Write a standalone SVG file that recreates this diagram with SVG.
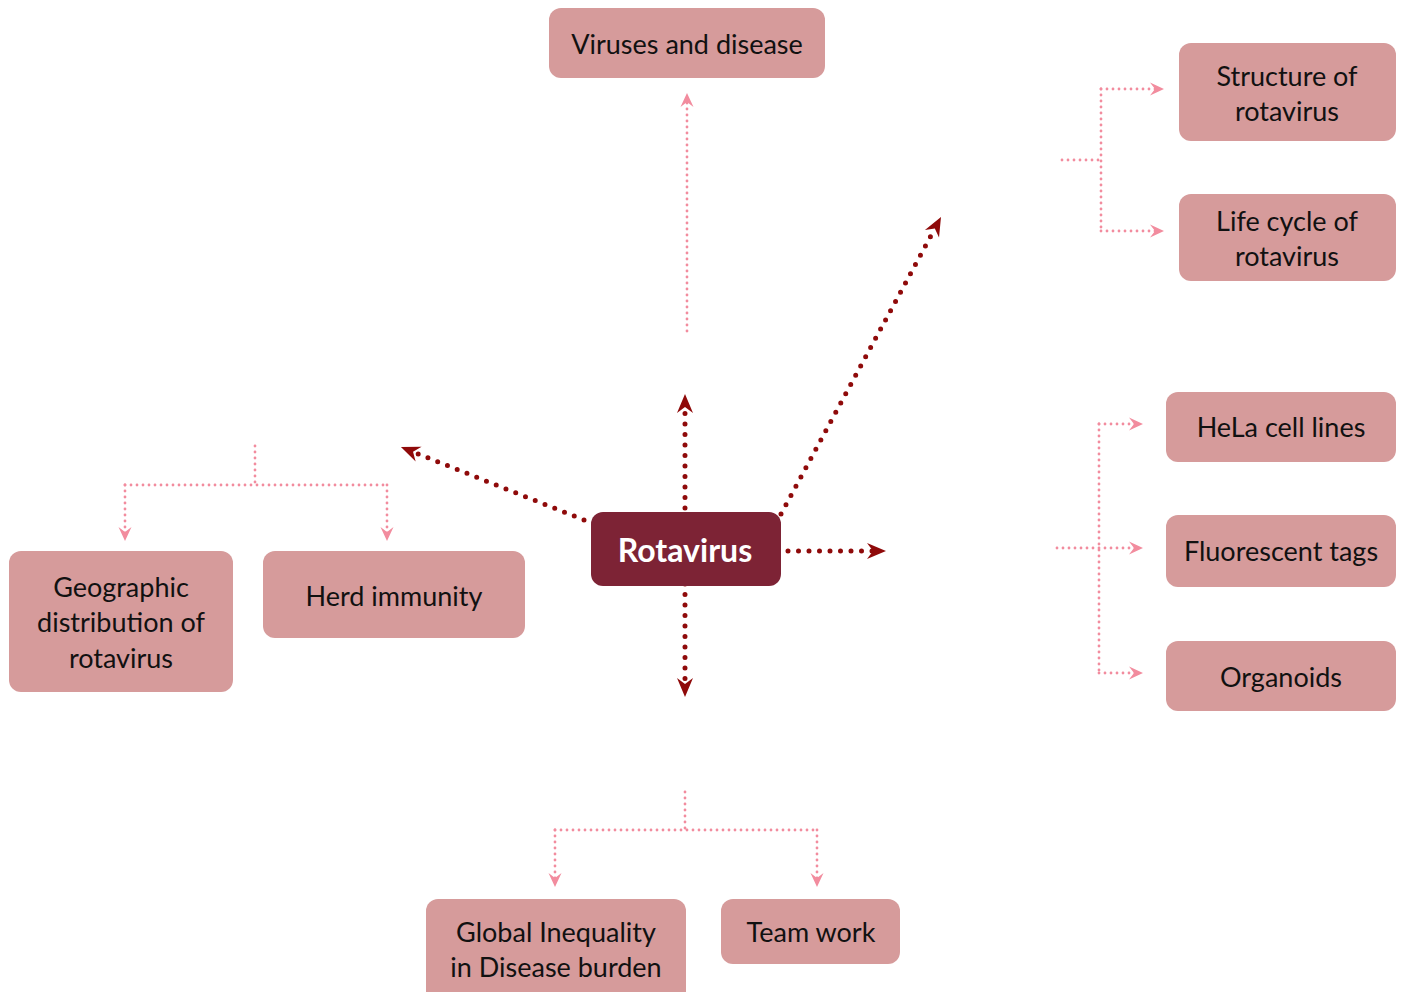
<svg xmlns="http://www.w3.org/2000/svg" width="1404" height="992" viewBox="0 0 1404 992">
<style>
.node rect{fill:#D69B9B;}
.lbl{font-family:Lato,"Open Sans",sans-serif;font-size:27px;fill:#111;text-anchor:middle;}
.dark{fill:none;stroke:#8F0A0A;stroke-width:5;stroke-dasharray:0 10.5;stroke-linecap:round;}
.pink{fill:none;stroke:#F28C9E;stroke-width:2.8;stroke-dasharray:0 6;stroke-linecap:round;}
.darkE{marker-end:url(#ad);}
.pinkE{marker-end:url(#ap);}
</style>
<defs>
<marker id="ad" markerUnits="userSpaceOnUse" markerWidth="22" markerHeight="20" viewBox="-20 -9 22 18" refX="-12" refY="0" orient="auto">
<path d="M0,0 L-19,-8 L-13,0 L-19,8 Z" fill="#8F0A0A"/>
</marker>
<marker id="ap" markerUnits="userSpaceOnUse" markerWidth="16" markerHeight="16" viewBox="-14 -7 16 14" refX="-7" refY="0" orient="auto">
<path d="M0,0 L-14,-6.5 L-9,0 L-14,6.5 Z" fill="#F28C9E"/>
</marker>
</defs>
<g id="connectors">
<path class="dark darkE" d="M685,508 L685,406"/>
<path class="dark darkE" d="M685,584 L685,685"/>
<path class="dark darkE" d="M788,551 L874,551"/>
<path class="dark darkE" d="M584,520 L412.1,451.5"/>
<path class="dark darkE" d="M781,514 L935.3,227.6"/>
<path class="pink pinkE" d="M687,331 L687,100"/>
<path class="pink" d="M1062,160 L1101,160 M1101,89 L1101,231"/>
<path class="pink pinkE" d="M1101,89 L1157,89"/>
<path class="pink pinkE" d="M1101,231 L1157,231"/>
<path class="pink" d="M1099,424 L1099,673"/>
<path class="pink pinkE" d="M1057,548 L1136,548"/>
<path class="pink pinkE" d="M1099,424 L1136,424"/>
<path class="pink pinkE" d="M1099,673 L1136,673"/>
<path class="pink" d="M255,446 L255,485 M125,485 L387,485"/>
<path class="pink pinkE" d="M125,485 L125,534"/>
<path class="pink pinkE" d="M387,485 L387,534"/>
<path class="pink" d="M685,792 L685,830 M555,830 L817,830"/>
<path class="pink pinkE" d="M555,830 L555,880"/>
<path class="pink pinkE" d="M817,830 L817,880"/>
</g>
<g id="rotavirus">
<rect x="591" y="512" width="190" height="74" rx="12" fill="#7D2335"/>
<text x="685" y="562" font-family="Lato,'Open Sans',sans-serif" font-size="32" font-weight="bold" fill="#fff" text-anchor="middle">Rotavirus</text>
</g>
<g id="viruses" class="node">
<rect x="549" y="8" width="276" height="70" rx="12"/>
<text class="lbl" x="687" y="54">Viruses and disease</text>
</g>
<g id="structure" class="node">
<rect x="1179" y="43" width="217" height="98" rx="12"/>
<text class="lbl" x="1287" y="86">Structure of</text>
<text class="lbl" x="1287" y="121">rotavirus</text>
</g>
<g id="lifecycle" class="node">
<rect x="1179" y="194" width="217" height="87" rx="12"/>
<text class="lbl" x="1287" y="231">Life cycle of</text>
<text class="lbl" x="1287" y="266">rotavirus</text>
</g>
<g id="hela" class="node">
<rect x="1166" y="392" width="230" height="70" rx="12"/>
<text class="lbl" x="1281" y="437">HeLa cell lines</text>
</g>
<g id="fluorescent" class="node">
<rect x="1166" y="515" width="230" height="72" rx="12"/>
<text class="lbl" x="1281" y="561">Fluorescent tags</text>
</g>
<g id="organoids" class="node">
<rect x="1166" y="641" width="230" height="70" rx="12"/>
<text class="lbl" x="1281" y="687">Organoids</text>
</g>
<g id="geographic" class="node">
<rect x="9" y="551" width="224" height="141" rx="12"/>
<text class="lbl" x="121" y="597">Geographic</text>
<text class="lbl" x="121" y="632">distribution of</text>
<text class="lbl" x="121" y="668">rotavirus</text>
</g>
<g id="herd" class="node">
<rect x="263" y="551" width="262" height="87" rx="12"/>
<text class="lbl" x="394" y="606">Herd immunity</text>
</g>
<g id="global" class="node">
<rect x="426" y="899" width="260" height="105" rx="12"/>
<text class="lbl" x="556" y="942">Global Inequality</text>
<text class="lbl" x="556" y="977">in Disease burden</text>
</g>
<g id="teamwork" class="node">
<rect x="721" y="899" width="179" height="65" rx="12"/>
<text class="lbl" x="811" y="942">Team work</text>
</g>
</svg>
